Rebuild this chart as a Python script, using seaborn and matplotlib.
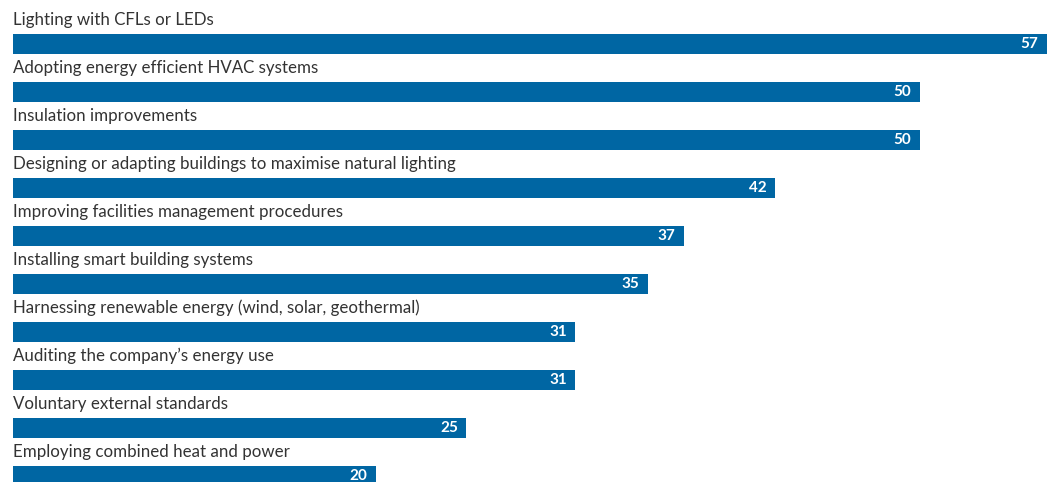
import matplotlib
matplotlib.use("Agg")
import matplotlib.pyplot as plt
import seaborn as sns
import pandas as pd

categories = [
    "Lighting with CFLs or LEDs",
    "Adopting energy efficient HVAC systems",
    "Insulation improvements",
    "Designing or adapting buildings to maximise natural lighting",
    "Improving facilities management procedures",
    "Installing smart building systems",
    "Harnessing renewable energy (wind, solar, geothermal)",
    "Auditing the company\u2019s energy use",
    "Voluntary external standards",
    "Employing combined heat and power",
]
values = [57, 50, 50, 42, 37, 35, 31, 31, 25, 20]

df = pd.DataFrame({"measure": categories, "share": values})

sns.set_theme(style="white")
plt.rcParams["font.family"] = ["Lato", "DejaVu Sans"]

W, H = 1056, 482
fig = plt.figure(figsize=(W / 100, H / 100), dpi=100)
x0, x1 = 13, 1046.7
ax = fig.add_axes([x0 / W, 0, (x1 - x0) / W, 1])

bar_color = "#0066a3"
row = 48.0
bar_h = 20.0
first_center = 44.0
sns.barplot(data=df, y="measure", x="share", orient="h", color=bar_color,
            width=bar_h / row, saturation=1, ax=ax, edgecolor="none")

ax.set_xlim(0, 57)
ax.set_ylim((H - first_center) / row, -first_center / row)
ax.set_axis_off()

for i, (cat, v) in enumerate(zip(categories, values)):
    ax.text(0, i - (first_center - 25) / row, cat, ha="left", va="baseline",
            fontsize=12.2, color="#333333")
    ax.annotate(str(v), xy=(v, i), xytext=(-6, 0), textcoords="offset points",
                ha="right", va="center", fontsize=11, fontweight="bold",
                color="white")

fig.savefig("out.png", dpi=100)
